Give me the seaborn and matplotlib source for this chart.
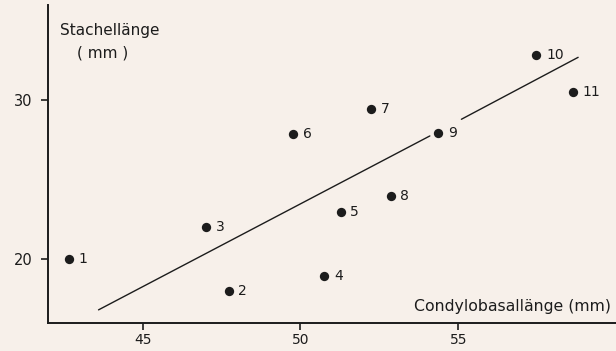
import numpy as np
import pandas as pd
import matplotlib
matplotlib.use("Agg")
import matplotlib.pyplot as plt
import seaborn as sns

# specimen numbers and measurements (mm)
specimen = ["1", "2", "3", "4", "5", "6", "7", "8", "9", "10", "11"]
condylobasal = [42.66, 47.72, 47.02, 50.76, 51.27, 49.76, 52.23, 52.86, 54.37, 57.48, 58.64]
stachel = [20.0, 17.98, 22.02, 18.95, 22.99, 27.9, 29.45, 24.0, 27.94, 32.85, 30.52]

# fitted line as drawn (gap beside label 9)
line_x = [43.6, 54.1, np.nan, 55.1, 58.8]
line_y = [16.8, 27.75, np.nan, 28.8, 32.7]

x_ticks = [45, 50, 55]
y_ticks = [20, 30]

df = pd.DataFrame({"Nr": specimen, "CBL": condylobasal, "Stachel": stachel})

bg = "#f7f0ea"
ink = "#1c1c1c"

sns.set_style("ticks")
plt.rcParams["font.family"] = ["DejaVu Sans"]

fig = plt.figure(figsize=(6.16, 3.51), dpi=100, facecolor=bg)
ax = fig.add_axes([0.078, 0.081, 0.922, 0.905])
ax.set_facecolor(bg)

ax.plot(line_x, line_y, color=ink, lw=1.0)
sns.scatterplot(data=df, x="CBL", y="Stachel", ax=ax, color=ink, s=45,
                edgecolor=ink, linewidth=0, zorder=3)

for _, row in df.iterrows():
    ax.annotate(row["Nr"], (row["CBL"], row["Stachel"]), xytext=(7, 0),
                textcoords="offset points", ha="left", va="center",
                fontsize=10, color=ink)

ax.set_xlim(42, 60)
ax.set_ylim(16, 36)
ax.set_xticks(x_ticks)
ax.set_yticks(y_ticks)
ax.set_xlabel("")
ax.set_ylabel("")
sns.despine(ax=ax, top=True, right=True)
for side in ["left", "bottom"]:
    ax.spines[side].set_linewidth(1.4)
    ax.spines[side].set_color(ink)
ax.tick_params(axis="both", direction="out", length=5, width=1.2,
               color=ink, labelcolor=ink, labelsize=10)
ax.tick_params(axis="x", pad=2.5)
ax.tick_params(axis="y", pad=6, labelsize=10.5)

ax.text(0.021, 0.918, "Stachellänge", transform=ax.transAxes, fontsize=11,
        color=ink, ha="left", va="center")
ax.text(0.051, 0.849, "( mm )", transform=ax.transAxes, fontsize=11,
        color=ink, ha="left", va="center")
ax.text(0.992, 0.05, "Condylobasallänge (mm)", transform=ax.transAxes,
        fontsize=11.3, color=ink, ha="right", va="center")

fig.savefig("out.png", dpi=100, facecolor=bg)
